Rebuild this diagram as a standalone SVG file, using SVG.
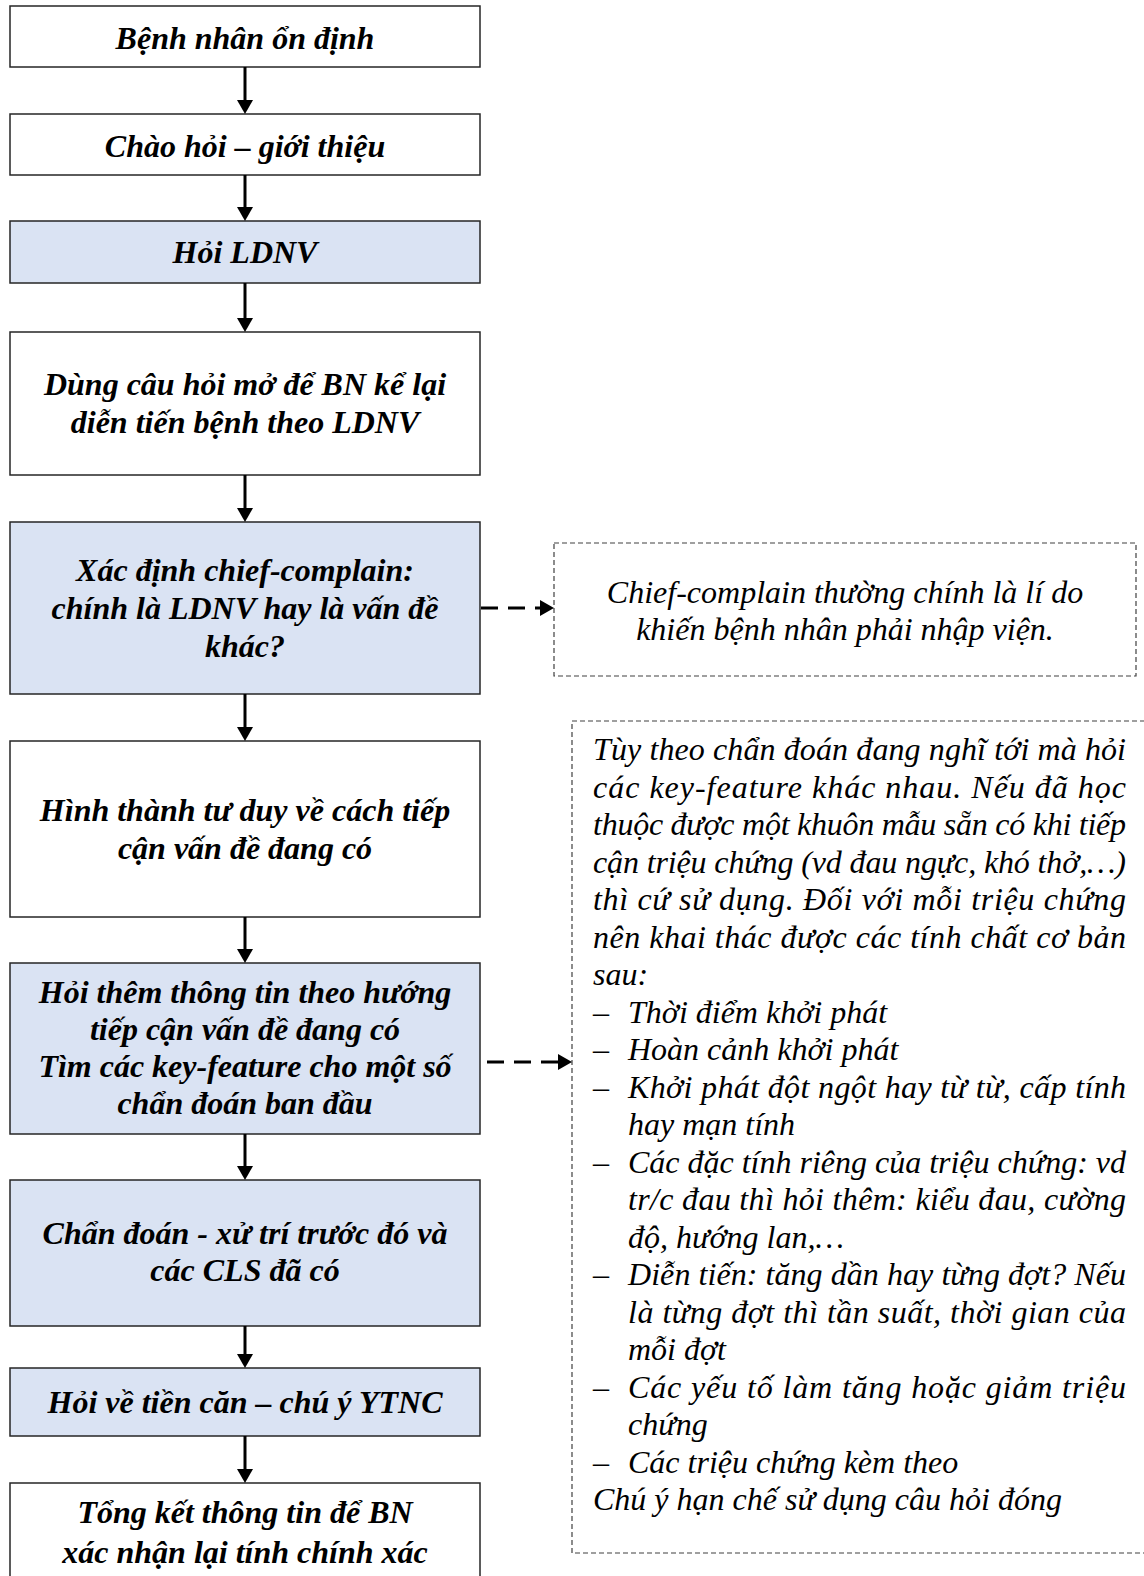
<svg xmlns="http://www.w3.org/2000/svg" width="1144" height="1576" viewBox="0 0 1144 1576">
  <style>
    .box { fill: #ffffff; stroke: #262626; stroke-width: 1.5; }
    .box.hl { fill: #dae3f3; }
    .note { fill: #ffffff; stroke: #404040; stroke-width: 1.2; stroke-dasharray: 5 3; }
    .step { font-family: "Liberation Serif", "Times New Roman", serif; font-size: 32px; font-weight: bold; font-style: italic; fill: #000; text-anchor: middle; }
    .txt { font-family: "Liberation Serif", "Times New Roman", serif; font-size: 32px; font-style: italic; fill: #000; }
    .flow { stroke: #000; stroke-width: 3; fill: none; marker-end: url(#head); }
    .side { stroke: #000; stroke-width: 3; fill: none; stroke-dasharray: 17 10; marker-end: url(#head); }
  </style>
  <defs>
    <marker id="head" markerUnits="userSpaceOnUse" viewBox="0 0 14 16" markerWidth="14" markerHeight="16" refX="2" refY="8" orient="auto">
      <path d="M0,0 L14,8 L0,16 Z" fill="#000"/>
    </marker>
  </defs>

  <g id="n1">
    <rect class="box" x="10" y="6" width="470" height="61"/>
    <text class="step" x="245" y="49">Bệnh nhân ổn định</text>
  </g>
  <g id="n2">
    <rect class="box" x="10" y="114" width="470" height="61"/>
    <text class="step" x="245" y="157">Chào hỏi – giới thiệu</text>
  </g>
  <g id="n3">
    <rect class="box hl" x="10" y="221" width="470" height="62"/>
    <text class="step" x="245" y="263">Hỏi LDNV</text>
  </g>
  <g id="n4">
    <rect class="box" x="10" y="332" width="470" height="143"/>
    <text class="step" x="245" y="395">Dùng câu hỏi mở để BN kể lại</text>
    <text class="step" x="245" y="433">diễn tiến bệnh theo LDNV</text>
  </g>
  <g id="n5">
    <rect class="box hl" x="10" y="522" width="470" height="172"/>
    <text class="step" x="245" y="581">Xác định chief-complain:</text>
    <text class="step" x="245" y="619">chính là LDNV hay là vấn đề</text>
    <text class="step" x="245" y="657">khác?</text>
  </g>
  <g id="n6">
    <rect class="box" x="10" y="741" width="470" height="176"/>
    <text class="step" x="245" y="821">Hình thành tư duy về cách tiếp</text>
    <text class="step" x="245" y="859">cận vấn đề đang có</text>
  </g>
  <g id="n7">
    <rect class="box hl" x="10" y="963" width="470" height="171"/>
    <text class="step" x="245" y="1003">Hỏi thêm thông tin theo hướng</text>
    <text class="step" x="245" y="1040">tiếp cận vấn đề đang có</text>
    <text class="step" x="245" y="1077">Tìm các key-feature cho một số</text>
    <text class="step" x="245" y="1114">chẩn đoán ban đầu</text>
  </g>
  <g id="n8">
    <rect class="box hl" x="10" y="1180" width="470" height="146"/>
    <text class="step" x="245" y="1244">Chẩn đoán - xử trí trước đó và</text>
    <text class="step" x="245" y="1281">các CLS đã có</text>
  </g>
  <g id="n9">
    <rect class="box hl" x="10" y="1368" width="470" height="68"/>
    <text class="step" x="245" y="1413">Hỏi về tiền căn – chú ý YTNC</text>
  </g>
  <g id="n10">
    <rect class="box" x="10" y="1483" width="470" height="110"/>
    <text class="step" x="245" y="1523">Tổng kết thông tin để BN</text>
    <text class="step" x="245" y="1563">xác nhận lại tính chính xác</text>
  </g>

  <g id="note1">
    <rect class="note" x="554" y="543" width="582" height="133"/>
    <text class="txt" x="845" y="603" text-anchor="middle">Chief-complain thường chính là lí do</text>
    <text class="txt" x="845" y="640" text-anchor="middle">khiến bệnh nhân phải nhập viện.</text>
  </g>

  <g id="note2">
    <rect class="note" x="572" y="721" width="600" height="832"/>
    <text class="txt" x="593" y="760" textLength="533" lengthAdjust="spacing">Tùy theo chẩn đoán đang nghĩ tới mà hỏi</text>
    <text class="txt" x="593" y="797.5" textLength="533" lengthAdjust="spacing">các key-feature khác nhau. Nếu đã học</text>
    <text class="txt" x="593" y="835" textLength="533" lengthAdjust="spacing">thuộc được một khuôn mẫu sẵn có khi tiếp</text>
    <text class="txt" x="593" y="872.5" textLength="533" lengthAdjust="spacing">cận triệu chứng (vd đau ngực, khó thở,…)</text>
    <text class="txt" x="593" y="910" textLength="533" lengthAdjust="spacing">thì cứ sử dụng. Đối với mỗi triệu chứng</text>
    <text class="txt" x="593" y="947.5" textLength="533" lengthAdjust="spacing">nên khai thác được các tính chất cơ bản</text>
    <text class="txt" x="593" y="985">sau:</text>
    <text class="txt" x="593" y="1022.5">–</text>
    <text class="txt" x="628" y="1022.5">Thời điểm khởi phát</text>
    <text class="txt" x="593" y="1060">–</text>
    <text class="txt" x="628" y="1060">Hoàn cảnh khởi phát</text>
    <text class="txt" x="593" y="1097.5">–</text>
    <text class="txt" x="628" y="1097.5" textLength="498" lengthAdjust="spacing">Khởi phát đột ngột hay từ từ, cấp tính</text>
    <text class="txt" x="628" y="1135">hay mạn tính</text>
    <text class="txt" x="593" y="1172.5">–</text>
    <text class="txt" x="628" y="1172.5" textLength="498" lengthAdjust="spacing">Các đặc tính riêng của triệu chứng: vd</text>
    <text class="txt" x="628" y="1210" textLength="498" lengthAdjust="spacing">tr/c đau thì hỏi thêm: kiểu đau, cường</text>
    <text class="txt" x="628" y="1247.5">độ, hướng lan,…</text>
    <text class="txt" x="593" y="1285">–</text>
    <text class="txt" x="628" y="1285" textLength="498" lengthAdjust="spacing">Diễn tiến: tăng dần hay từng đợt? Nếu</text>
    <text class="txt" x="628" y="1322.5" textLength="498" lengthAdjust="spacing">là từng đợt thì tần suất, thời gian của</text>
    <text class="txt" x="628" y="1360">mỗi đợt</text>
    <text class="txt" x="593" y="1397.5">–</text>
    <text class="txt" x="628" y="1397.5" textLength="498" lengthAdjust="spacing">Các yếu tố làm tăng hoặc giảm triệu</text>
    <text class="txt" x="628" y="1435">chứng</text>
    <text class="txt" x="593" y="1472.5">–</text>
    <text class="txt" x="628" y="1472.5">Các triệu chứng kèm theo</text>
    <text class="txt" x="593" y="1510">Chú ý hạn chế sử dụng câu hỏi đóng</text>
  </g>

  <g id="connectors">
    <line class="flow" x1="245" y1="67" x2="245" y2="102"/>
    <line class="flow" x1="245" y1="175" x2="245" y2="209"/>
    <line class="flow" x1="245" y1="283" x2="245" y2="320"/>
    <line class="flow" x1="245" y1="475" x2="245" y2="510"/>
    <line class="flow" x1="245" y1="694" x2="245" y2="729"/>
    <line class="flow" x1="245" y1="917" x2="245" y2="951"/>
    <line class="flow" x1="245" y1="1134" x2="245" y2="1168"/>
    <line class="flow" x1="245" y1="1326" x2="245" y2="1356"/>
    <line class="flow" x1="245" y1="1436" x2="245" y2="1471"/>
    <line class="side" x1="481" y1="608" x2="542" y2="608"/>
    <line class="side" x1="487" y1="1062" x2="560" y2="1062"/>
  </g>
</svg>
